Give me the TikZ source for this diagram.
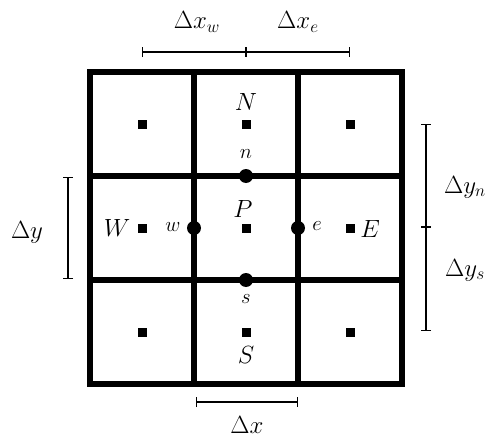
\documentclass[tikz,border=0pt]{standalone}
\usepackage{graphicx}
\usetikzlibrary{arrows.meta}
\newcommand{\bigsym}[1]{\scalebox{1.2}{\huge$#1$}}
\newcommand{\smallsym}[1]{\scalebox{1.0}{\huge$#1$}}
\begin{document}
\begin{tikzpicture}[x=1pt,y=-1pt,
  gridline/.style={line width=5.5pt},
  marker/.style={fill=black,minimum size=9pt,inner sep=0pt,outer sep=0pt},
  fdot/.style={circle,fill=black,minimum size=14pt,inner sep=0pt},
  big/.style={inner sep=0pt},
  small/.style={inner sep=0pt},
  dimline/.style={line width=1.3pt,{Bar[width=10pt,line width=1.3pt]}-{Bar[width=10pt,line width=1.3pt]}}]
\useasboundingbox (0,0) rectangle (491,439);
% grid
\draw[gridline] (90,72) rectangle (402,384);
\draw[gridline] (194,72) -- (194,384);
\draw[gridline] (298,72) -- (298,384);
\draw[gridline] (90,176) -- (402,176);
\draw[gridline] (90,280) -- (402,280);
% cell centre markers
\node[marker] (NW) at (142,124) {};
\node[marker] (N) at (246,124) {};
\node[marker] (NE) at (350,124) {};
\node[marker] (W) at (142,228) {};
\node[marker] (P) at (246,228) {};
\node[marker] (E) at (350,228) {};
\node[marker] (SW) at (142,332) {};
\node[marker] (S) at (246,332) {};
\node[marker] (SE) at (350,332) {};
% face dots
\node[fdot] (n) at (246,176) {};
\node[fdot] (s) at (246,280) {};
\node[fdot] (w) at (194,228) {};
\node[fdot] (e) at (298,228) {};
% labels
\node[big] (lN) at (246,102) {\bigsym{N}};
\node[big] (lP) at (243,209) {\bigsym{P}};
\node[big] (lS) at (246,355) {\bigsym{S}};
\node[big] (lW) at (117,228) {\bigsym{W}};
\node[big] (lE) at (370,229) {\bigsym{E}};
\node[small] (ln) at (246,154) {\smallsym{n}};
\node[small] (ls) at (246,299) {\smallsym{s}};
\node[small] (lw) at (173,227) {\smallsym{w}};
\node[small] (le) at (317,226) {\smallsym{e}};
% dimension lines
\coordinate (t1) at (142,52);
\coordinate (t2) at (246,52);
\coordinate (t3) at (350,52);
\draw[dimline] (t1) -- (t2);
\draw[dimline] (t2) -- (t3);
\node[big] (dxw) at (197,22) {\bigsym{\Delta x_w}};
\node[big] (dxe) at (298,22) {\bigsym{\Delta x_e}};
\coordinate (l1) at (68,177);
\coordinate (l2) at (68,279);
\draw[dimline] (l1) -- (l2);
\node[big] (dy) at (27,232) {\bigsym{\Delta y}};
\coordinate (r1) at (426,124);
\coordinate (r2) at (426,227);
\coordinate (r3) at (426,331);
\draw[dimline] (r1) -- (r2);
\draw[dimline] (r2) -- (r3);
\node[big] (dyn) at (465,187) {\bigsym{\Delta y_n}};
\node[big] (dys) at (465,270) {\bigsym{\Delta y_s}};
\coordinate (b1) at (196,402);
\coordinate (b2) at (298,402);
\draw[dimline] (b1) -- (b2);
\node[big] (dx) at (247,425) {\bigsym{\Delta x}};
\end{tikzpicture}
\end{document}
